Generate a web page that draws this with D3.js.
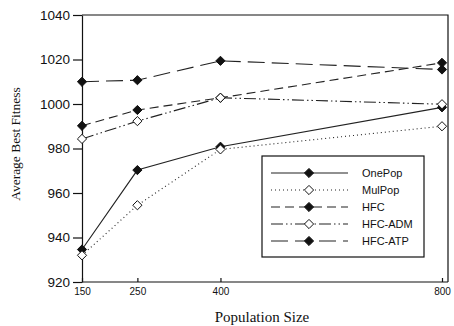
<!DOCTYPE html>
<html>
<head>
<meta charset="utf-8">
<script src="https://cdn.jsdelivr.net/npm/d3@7"></script>
<style>
  body { margin: 0; background: #fff; }
</style>
</head>
<body>
<div id="chart"></div>
<script>
var popSizes = [150, 250, 400, 800];
var onePop = [934.6, 970.3, 980.8, 998.5];
var mulPop = [932.0, 954.5, 979.6, 990.0];
var hfc = [990.2, 997.3, 1002.8, 1018.5];
var hfcAdm = [984.3, 992.3, 1002.8, 999.9];
var hfcAtp = [1010.0, 1010.7, 1019.4, 1015.5];
var yTicks = [920, 940, 960, 980, 1000, 1020, 1040];
var seriesNames = ["OnePop", "MulPop", "HFC", "HFC-ADM", "HFC-ATP"];

var series = [
    {name: seriesNames[0], values: onePop, dash: null, fill: "#111"},
    {name: seriesNames[1], values: mulPop, dash: "1,3", fill: "#fff"},
    {name: seriesNames[2], values: hfc, dash: "9,5", fill: "#111"},
    {name: seriesNames[3], values: hfcAdm, dash: "12,3,1.5,3,1.5,3", fill: "#fff"},
    {name: seriesNames[4], values: hfcAtp, dash: "17,7", fill: "#111"}
];

// square diamond, r = half diagonal
var diamond = function() {
    var r = 4.6;
    return "M0," + (-r) + "L" + r + ",0L0," + r + "L" + (-r) + ",0Z";
};

function draw_lineplot() {
    var W = 454, H = 326;
    var margin = {top: 15, right: 6, bottom: 44, left: 82},
        width = W - margin.left - margin.right,
        height = H - margin.top - margin.bottom;

    var x = d3.scaleLinear()
        .domain([150, 800])
        .range([0, 360]);
    var y = d3.scaleLinear()
        .domain([920, 1040])
        .range([height, 0]);

    var svg = d3.select("#chart")
        .append("svg")
        .attr("width", W)
        .attr("height", H);

    var g = svg.append("g")
        .attr("transform", "translate(" + margin.left + "," + margin.top + ")");

    // frame top and right
    g.append("path")
        .attr("d", "M0,0H" + width + "V" + height)
        .attr("fill", "none")
        .attr("stroke", "#111")
        .attr("stroke-width", 1.2);

    var xAxis = d3.axisBottom(x).tickValues(popSizes).tickSize(4).tickSizeOuter(0);
    var yAxis = d3.axisLeft(y).tickValues(yTicks).tickFormat(d3.format("d")).tickSize(9).tickSizeOuter(0);

    var gx = g.append("g")
        .attr("transform", "translate(0," + height + ")")
        .call(xAxis);
    gx.select(".domain").attr("d", "M0,0H" + width);
    gx.selectAll(".tick line").attr("y1", -4).attr("y2", 0);
    gx.selectAll("text")
        .attr("dy", "1.3em")
        .attr("y", 0)
        .style("font-family", "Liberation Sans, Arial, sans-serif")
        .style("font-size", "10px")
        .attr("fill", "#111");

    var gy = g.append("g").call(yAxis);
    gy.selectAll("text")
        .attr("x", -12)
        .style("font-family", "Liberation Sans, Arial, sans-serif")
        .style("font-size", "13.5px")
        .attr("fill", "#111");

    g.selectAll(".domain, .tick line")
        .attr("stroke", "#111")
        .attr("stroke-width", 1.2);

    var line = d3.line()
        .x(function(d, i) { return x(popSizes[i]); })
        .y(function(d) { return y(d); });

    series.forEach(function(s) {
        g.append("path")
            .datum(s.values)
            .attr("d", line)
            .attr("fill", "none")
            .attr("stroke", "#222")
            .attr("stroke-width", 1.1)
            .attr("stroke-dasharray", s.dash);
    });
    series.forEach(function(s) {
        g.selectAll(null)
            .data(s.values)
            .enter()
            .append("path")
            .attr("d", diamond)
            .attr("transform", function(d, i) {
                return "translate(" + x(popSizes[i]) + "," + y(d) + ")";
            })
            .attr("fill", s.fill)
            .attr("stroke", "#111")
            .attr("stroke-width", 1);
    });

    // legend
    var lg = svg.append("g").attr("transform", "translate(262,156)");
    lg.append("rect")
        .attr("width", 162)
        .attr("height", 101)
        .attr("fill", "#fff")
        .attr("stroke", "#111")
        .attr("stroke-width", 1.2);
    var row = lg.selectAll("g.row")
        .data(series)
        .enter()
        .append("g")
        .attr("class", "row")
        .attr("transform", function(d, i) { return "translate(0," + (17 + i * 17) + ")"; });
    row.append("line")
        .attr("x1", 9).attr("x2", 86)
        .attr("stroke", "#222")
        .attr("stroke-width", 1.1)
        .attr("stroke-dasharray", function(d) { return d.dash; });
    row.append("path")
        .attr("d", diamond)
        .attr("transform", "translate(47,0)")
        .attr("fill", function(d) { return d.fill; })
        .attr("stroke", "#111");
    row.append("text")
        .attr("x", 100)
        .attr("dy", "0.35em")
        .style("font-family", "Liberation Sans, Arial, sans-serif")
        .style("font-size", "11px")
        .attr("fill", "#111")
        .text(function(d) { return d.name; });

    // axis titles
    svg.append("text")
        .attr("x", 262)
        .attr("y", 322)
        .attr("text-anchor", "middle")
        .style("font-family", "Liberation Serif, Times New Roman, serif")
        .style("font-size", "15px")
        .attr("fill", "#111")
        .text("Population Size");
    svg.append("text")
        .attr("transform", "translate(20,144) rotate(-90)")
        .attr("text-anchor", "middle")
        .style("font-family", "Liberation Serif, Times New Roman, serif")
        .style("font-size", "13.5px")
        .attr("fill", "#111")
        .text("Average Best Fitness");
}

draw_lineplot();
</script>
</body>
</html>
